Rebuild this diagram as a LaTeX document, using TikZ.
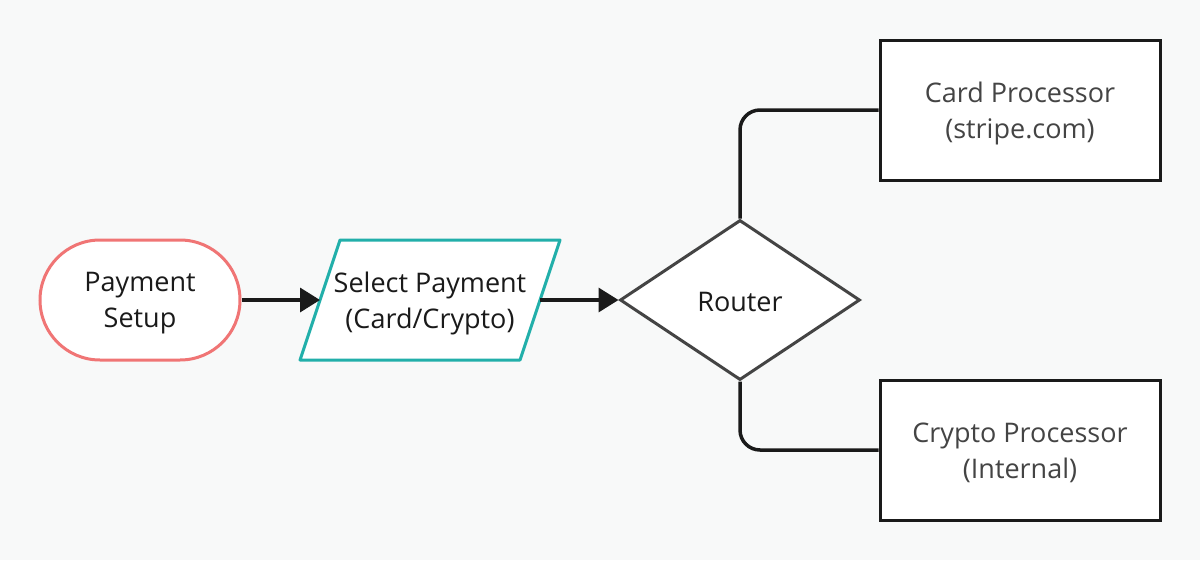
\documentclass[tikz,border=0pt]{standalone}
\usepackage{fontspec}
\setmainfont{Open Sans}
\usetikzlibrary{shapes.geometric,arrows.meta}
\definecolor{bg}{HTML}{F8F9F9}
\definecolor{startred}{HTML}{F07575}
\definecolor{teal}{HTML}{22AFAA}
\definecolor{dgray}{HTML}{444444}
\definecolor{ink}{HTML}{1A1A1A}
\begin{document}
\begin{tikzpicture}[x=1pt,y=-1pt,
  every node/.style={font=\fontsize{27}{36}\selectfont, align=center, inner sep=0pt},
  startbox/.style={draw=startred, fill=white, line width=3pt, rounded corners=60pt,
    minimum width=200pt, minimum height=120pt, text=ink},
  procbox/.style={draw=ink, fill=white, line width=3pt, minimum width=280pt,
    minimum height=140pt, text=dgray},
  routerbox/.style={draw=dgray, fill=white, line width=3pt, diamond,
    minimum width=240pt, minimum height=160pt, text=ink},
  label/.style={text=ink},
  flow/.style={draw=ink, line width=3.5pt, -{Triangle[length=20pt,width=24pt]}},
  branch/.style={draw=ink, line width=3.5pt, rounded corners=20pt}
]
\fill[bg] (0,0) rectangle (1200,560);
\useasboundingbox (0,0) rectangle (1200,560);

\node[startbox] (start) at (140,300) {};
\node[label] (startlbl) at (140,303) {Payment\\Setup};

\draw[teal, fill=white, line width=3pt, line join=round]
  (340,240) -- (560,240) -- (520,360) -- (300,360) -- cycle;
\node[label] (select) at (430,303) {Select Payment\\(Card/Crypto)};
\coordinate (selL) at (320,300);
\coordinate (selR) at (540,300);

\node[routerbox] (router) at (740,300) {};
\node[label] (routerlbl) at (740,302) {Router};

\node[procbox] (card) at (1020,110) {};
\node[text=dgray] (cardlbl) at (1020,113) {Card Processor\\(stripe.com)};
\node[procbox] (crypto) at (1020,450) {};
\node[text=dgray] (cryptolbl) at (1020,453) {Crypto Processor\\(Internal)};

\draw[flow] (start.east) -- (selL);
\draw[flow] (selR) -- (router.west);
\draw[branch] (router.north) |- (card.west);
\draw[branch] (router.south) |- (crypto.west);
\end{tikzpicture}
\end{document}
